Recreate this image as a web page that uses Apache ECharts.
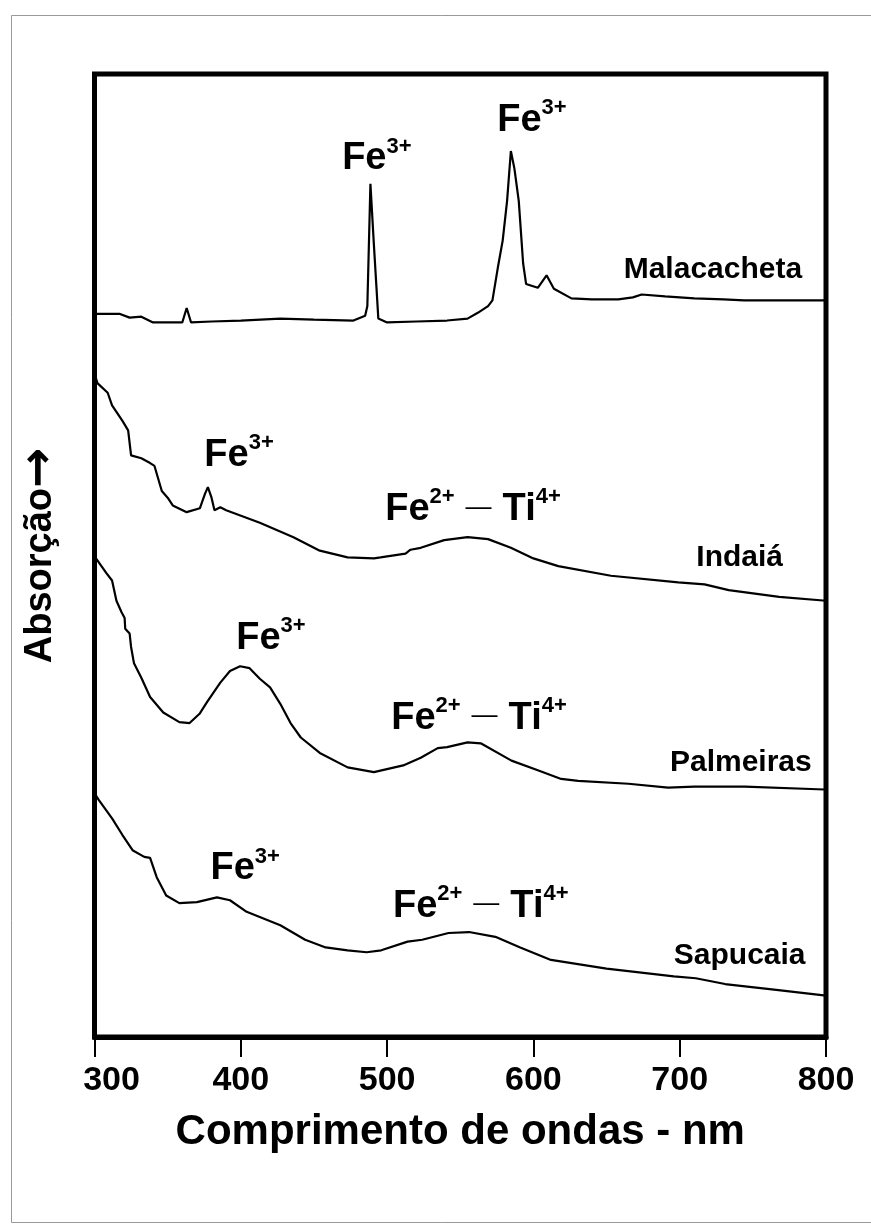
<!DOCTYPE html>
<html lang="pt">
<head>
<meta charset="UTF-8">
<title>Espectros de absorção</title>
<script src="https://cdn.jsdelivr.net/npm/echarts@6/dist/echarts.min.js"></script>
<style>
  html, body { margin: 0; padding: 0; background: #fff; }
  #main { width: 871px; height: 1231px; }
</style>
</head>
<body>
<div id="main"></div>
<script>
  const FONT = '"Liberation Sans", Arial, sans-serif';

  // comprimento de onda (nm) / absorção (u.a.)
  const malacachetaNm = [300, 317, 324, 332, 340, 350, 360, 363, 366, 380, 400, 427, 450, 477, 485, 486.5, 488.6, 491, 494, 500, 520, 541, 555, 562, 569, 572, 575.7, 579, 582, 584.6, 587, 590, 593, 595, 603, 609, 614, 626, 640, 658, 668, 674, 690, 710, 730, 744, 770, 800];
  const malacachetaAbs = [0.751, 0.751, 0.747, 0.748, 0.742, 0.742, 0.742, 0.757, 0.742, 0.743, 0.744, 0.746, 0.745, 0.744, 0.749, 0.759, 0.886, 0.822, 0.746, 0.742, 0.743, 0.744, 0.746, 0.752, 0.759, 0.765, 0.799, 0.827, 0.868, 0.920, 0.902, 0.868, 0.803, 0.782, 0.778, 0.791, 0.777, 0.767, 0.766, 0.766, 0.768, 0.771, 0.769, 0.767, 0.766, 0.765, 0.765, 0.765];

  const indaiaNm = [301, 302, 309, 312, 319, 323, 325, 332, 338, 341, 346, 350, 353.5, 363, 372, 375.5, 377.5, 380, 382, 386, 390, 413, 436, 454, 473, 491, 495.5, 512.6, 516, 523, 539, 555, 569, 584.6, 600, 617, 653, 699, 717, 733.5, 768, 800];
  const indaiaAbs = [0.684, 0.679, 0.669, 0.656, 0.640, 0.630, 0.604, 0.601, 0.596, 0.593, 0.567, 0.560, 0.552, 0.545, 0.549, 0.564, 0.571, 0.560, 0.547, 0.550, 0.547, 0.534, 0.519, 0.505, 0.498, 0.497, 0.498, 0.502, 0.506, 0.508, 0.516, 0.519, 0.517, 0.508, 0.497, 0.489, 0.479, 0.472, 0.470, 0.464, 0.457, 0.453];

  const palmeirasNm = [301, 302, 308, 312, 315, 318.5, 320.6, 321, 324, 325, 327, 332, 338, 347, 358, 365, 372, 377, 386, 392.6, 399.5, 406, 413, 420, 427, 434, 441, 454, 473, 491, 511, 523, 534.6, 541, 555, 564, 585, 603, 619, 630.6, 665, 692, 710, 744.5, 799];
  const palmeirasAbs = [0.497, 0.495, 0.482, 0.474, 0.453, 0.441, 0.435, 0.424, 0.419, 0.405, 0.388, 0.373, 0.353, 0.337, 0.327, 0.326, 0.336, 0.348, 0.368, 0.380, 0.385, 0.383, 0.372, 0.363, 0.346, 0.326, 0.311, 0.295, 0.280, 0.275, 0.282, 0.290, 0.300, 0.301, 0.306, 0.305, 0.287, 0.277, 0.268, 0.266, 0.263, 0.259, 0.260, 0.260, 0.257];

  const sapucaiaNm = [300, 303, 312, 319, 326, 334, 338, 342.5, 349, 358, 370, 383.7, 392.6, 404, 427, 444, 458, 473, 486, 496, 514, 524, 542, 556, 574, 591, 612, 650, 696, 711, 731, 766, 800];
  const sapucaiaAbs = [0.253, 0.246, 0.227, 0.210, 0.194, 0.187, 0.186, 0.166, 0.147, 0.139, 0.140, 0.145, 0.142, 0.130, 0.116, 0.101, 0.093, 0.090, 0.088, 0.090, 0.099, 0.101, 0.108, 0.109, 0.104, 0.093, 0.080, 0.071, 0.063, 0.061, 0.055, 0.049, 0.043];

  const xTicks = [300, 400, 500, 600, 700, 800];

  // rótulos das bandas e das amostras (texto, nm, absorção)
  const bandTexts = [
    '{fe|Fe}{sup|3+}', '{fe|Fe}{sup|3+}', '{nm|Malacacheta}',
    '{fe|Fe}{sup|3+}', '{fe|Fe}{sup|2+}{dash|—}{fe|Ti}{sup|4+}', '{nm|Indaiá}',
    '{fe|Fe}{sup|3+}', '{fe|Fe}{sup|2+}{dash|—}{fe|Ti}{sup|4+}', '{nm|Palmeiras}',
    '{fe|Fe}{sup|3+}', '{fe|Fe}{sup|2+}{dash|—}{fe|Ti}{sup|4+}', '{nm|Sapucaia}'
  ];
  const bandNm = [493, 599, 722.7, 398.8, 558.7, 741, 420.6, 562.8, 741.8, 403, 564, 741];
  const bandAbs = [0.914, 0.954, 0.797, 0.606, 0.550, 0.498, 0.416, 0.333, 0.285, 0.177, 0.138, 0.084];

  const zip = (a, b) => a.map((v, i) => [v, b[i]]);

  const lineSeries = (name, nm, abs) => ({
    name: name,
    type: 'line',
    data: zip(nm, abs),
    showSymbol: false,
    silent: true,
    lineStyle: { color: '#000', width: 2.2 }
  });

  const chart = echarts.init(document.getElementById('main'), null, { renderer: 'canvas' });

  chart.setOption({
    backgroundColor: '#fff',
    animation: false,
    grid: {
      show: true,
      left: 94.5,
      right: 45,
      top: 74,
      bottom: 194,
      borderColor: '#000',
      borderWidth: 5
    },
    xAxis: {
      type: 'value',
      min: 300,
      max: 800,
      interval: 100,
      axisLine: { show: true, lineStyle: { color: '#000', width: 5 } },
      axisTick: { show: true, length: 20, lineStyle: { color: '#000', width: 2 } },
      axisLabel: {
        color: '#000', fontSize: 34, fontWeight: 'bold', fontFamily: FONT, margin: 27,
        formatter: v => !xTicks.includes(v) ? '' : (v === xTicks[0] ? '{first|' + v + '}' : String(v)),
        rich: {
          first: { fontSize: 34, fontWeight: 'bold', fontFamily: FONT, color: '#000', padding: [0, 0, 0, 34] }
        }
      },
      splitLine: { show: false },
      name: 'Comprimento de ondas - nm',
      nameLocation: 'middle',
      nameGap: 74,
      nameTextStyle: { color: '#000', fontSize: 42, fontWeight: 'bold', fontFamily: FONT }
    },
    yAxis: {
      type: 'value',
      min: 0,
      max: 1,
      axisLine: { show: false },
      axisTick: { show: false },
      axisLabel: { show: false },
      splitLine: { show: false },
      name: '{a|Absorção}{b|→}',
      nameLocation: 'middle',
      nameRotate: 90,
      nameGap: 30,
      nameTextStyle: {
        color: '#000',
        rich: {
          a: { fontSize: 38, fontWeight: 'bold', fontFamily: FONT, color: '#000' },
          b: { fontSize: 48, fontWeight: 'bold', fontFamily: '"DejaVu Sans"', color: '#000' }
        }
      }
    },
    graphic: [{
      type: 'rect',
      left: 9,
      top: 13,
      shape: { width: 861.5, height: 1207 },
      style: { fill: 'none', stroke: '#999', lineWidth: 1 },
      silent: true
    }],
    series: [
      lineSeries('Malacacheta', malacachetaNm, malacachetaAbs),
      lineSeries('Indaiá', indaiaNm, indaiaAbs),
      lineSeries('Palmeiras', palmeirasNm, palmeirasAbs),
      lineSeries('Sapucaia', sapucaiaNm, sapucaiaAbs),
      {
        name: 'rótulos',
        type: 'scatter',
        symbolSize: 0,
        silent: true,
        itemStyle: { opacity: 1 },
        data: bandTexts.map((t, i) => ({ value: [bandNm[i], bandAbs[i]], text: t })),
        label: {
          show: true,
          position: 'inside',
          color: '#000',
          textBorderWidth: 0,
          fontFamily: FONT,
          formatter: p => p.data.text,
          rich: {
            fe: { fontSize: 38, fontWeight: 'bold', fontFamily: FONT, color: '#000', lineHeight: 42, verticalAlign: 'bottom' },
            sup: { fontSize: 22, fontWeight: 'bold', fontFamily: FONT, color: '#000', lineHeight: 22, verticalAlign: 'top' },
            dash: { fontSize: 26, fontWeight: 'normal', fontFamily: FONT, color: '#000', padding: [0, 11, 0, 11], verticalAlign: 'middle' },
            nm: { fontSize: 30, fontWeight: 'bold', fontFamily: FONT, color: '#000' }
          }
        }
      }
    ]
  });
</script>
</body>
</html>
